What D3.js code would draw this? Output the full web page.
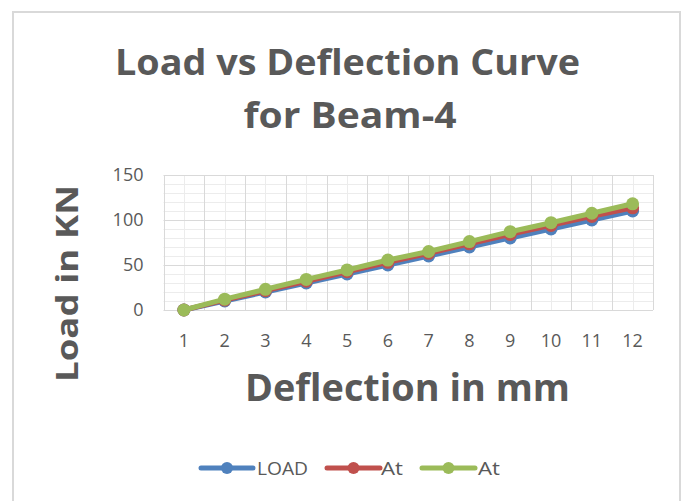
<!DOCTYPE html>
<html>
<head>
<meta charset="utf-8">
<script src="https://cdn.jsdelivr.net/npm/d3@7"></script>
<style>
  html, body { margin: 0; padding: 0; background: #fff; }
  svg { display: block; }
</style>
</head>
<body>
<svg id="chart" width="686" height="501"></svg>
<script>
const categories = ["1","2","3","4","5","6","7","8","9","10","11","12"];
const loadValues = [0, 10, 20, 30, 40, 50, 60, 70, 80, 90, 100, 110];
const at1Values  = [0, 11, 21.5, 32, 42.5, 53, 63, 73.5, 84, 94, 104, 113.5];
const at2Values  = [0, 12, 23, 34, 44.5, 55.5, 65, 76, 87, 97, 107.5, 118];
const seriesNames = ["LOAD", "At", "At"];
const yTicks = [0, 50, 100, 150];
const titleLines = ["Load vs Deflection Curve", "for Beam-4"];
const xTitle = "Deflection in mm";
const yTitle = "Load in KN";

const colors = ["#4F81BD", "#C0504D", "#9BBB59"];
const series = [loadValues, at1Values, at2Values].map((v, i) => ({ name: seriesNames[i], values: v, color: colors[i] }));

const svg = d3.select("#chart");
const textColor = "#595959";
const boldFont = "'Open Sans', 'Noto Sans', sans-serif";

// chart border
svg.append("rect").attr("x", 13).attr("y", 12).attr("width", 667).attr("height", 500)
  .attr("fill", "#fff").attr("stroke", "#d9d9d9").attr("stroke-width", 2);

const plot = { left: 163.5, right: 653, top: 175, bottom: 310 };
const x = d3.scaleBand().domain(categories).range([plot.left, plot.right]).paddingInner(0).paddingOuter(0);
const y = d3.scaleLinear().domain([0, 150]).range([plot.bottom, plot.top]);
const cx = d => x(d) + x.bandwidth() / 2;

const g = svg.append("g");

// minor horizontal gridlines
g.append("g").selectAll("line").data(d3.range(0, 151, 10).filter(v => v % 50 !== 0)).join("line")
  .attr("x1", plot.left).attr("x2", plot.right)
  .attr("y1", d => Math.round(y(d)) + 0.5).attr("y2", d => Math.round(y(d)) + 0.5)
  .attr("stroke", "#ececec").attr("stroke-width", 1);
// minor vertical gridlines (category centers)
g.append("g").selectAll("line").data(categories).join("line")
  .attr("x1", d => Math.round(cx(d)) + 0.5).attr("x2", d => Math.round(cx(d)) + 0.5)
  .attr("y1", plot.top).attr("y2", plot.bottom)
  .attr("stroke", "#ececec").attr("stroke-width", 1);
// major vertical gridlines (category boundaries)
const bounds = categories.map(c => x(c)).concat([plot.right]);
g.append("g").selectAll("line").data(bounds).join("line")
  .attr("x1", d => Math.round(d) + 0.5).attr("x2", d => Math.round(d) + 0.5)
  .attr("y1", plot.top).attr("y2", plot.bottom)
  .attr("stroke", "#d9d9d9").attr("stroke-width", 1);
// major horizontal gridlines
g.append("g").selectAll("line").data(yTicks).join("line")
  .attr("x1", plot.left).attr("x2", plot.right)
  .attr("y1", d => Math.round(y(d)) + 0.5).attr("y2", d => Math.round(y(d)) + 0.5)
  .attr("stroke", "#d9d9d9").attr("stroke-width", 1);

// y axis tick labels
const yAxis = d3.axisLeft(y).tickValues(yTicks).tickSize(0).tickPadding(20);
const yg = svg.append("g").attr("transform", `translate(${plot.left},0)`).call(yAxis);
yg.select(".domain").remove();
yg.selectAll("text").attr("font-family", "'Open Sans', sans-serif").attr("font-size", 18).attr("fill", textColor);

// x axis tick labels
const xAxis = d3.axisBottom(x).tickSize(0).tickPadding(24);
const xg = svg.append("g").attr("transform", `translate(0,${plot.bottom})`).call(xAxis);
xg.select(".domain").remove();
xg.selectAll("text").attr("font-family", "'Open Sans', sans-serif").attr("font-size", 18).attr("fill", textColor);

// series lines and markers
const line = d3.line().x((d, i) => cx(categories[i])).y(d => y(d));
series.forEach(s => {
  g.append("path").datum(s.values).attr("d", line)
    .attr("fill", "none").attr("stroke", s.color).attr("stroke-width", 5)
    .attr("stroke-linejoin", "round").attr("stroke-linecap", "round");
  g.append("g").selectAll("circle").data(s.values).join("circle")
    .attr("cx", (d, i) => cx(categories[i])).attr("cy", d => y(d)).attr("r", 6.5)
    .attr("fill", s.color);
});

// title
const title = svg.append("g");
const tl = [
  { t: titleLines[0], x: 347.5, y: 75, w: 465 },
  { t: titleLines[1], x: 350, y: 128, w: 213 }
];
tl.forEach(o => {
  title.append("text").attr("x", o.x).attr("y", o.y).attr("text-anchor", "middle")
    .attr("font-family", boldFont).attr("font-weight", "bold").attr("font-size", 36)
    .attr("fill", textColor).attr("textLength", o.w).attr("lengthAdjust", "spacingAndGlyphs")
    .text(o.t);
});

// x axis title
svg.append("text").attr("x", 407.5).attr("y", 401).attr("text-anchor", "middle")
  .attr("font-family", boldFont).attr("font-weight", "bold").attr("font-size", 37)
  .attr("fill", textColor).attr("textLength", 325).attr("lengthAdjust", "spacingAndGlyphs")
  .text(xTitle);

// y axis title
svg.append("text").attr("transform", "translate(78,283.5) rotate(-90)").attr("text-anchor", "middle")
  .attr("font-family", boldFont).attr("font-weight", "bold").attr("font-size", 30)
  .attr("fill", textColor).attr("textLength", 197).attr("lengthAdjust", "spacingAndGlyphs")
  .text(yTitle);

// legend
const legendItems = [
  { x1: 201, x2: 253, tx: 257, tw: 51 },
  { x1: 327, x2: 380, tx: 381, tw: 22 },
  { x1: 422, x2: 475, tx: 478, tw: 22 }
];
const ly = 468;
const lg = svg.append("g");
series.forEach((s, i) => {
  const it = legendItems[i];
  lg.append("line").attr("x1", it.x1).attr("x2", it.x2).attr("y1", ly).attr("y2", ly)
    .attr("stroke", s.color).attr("stroke-width", 5).attr("stroke-linecap", "round");
  lg.append("circle").attr("cx", (it.x1 + it.x2) / 2).attr("cy", ly).attr("r", 6).attr("fill", s.color);
  lg.append("text").attr("x", it.tx).attr("y", ly + 7).attr("font-family", "'Open Sans', sans-serif")
    .attr("font-size", 18).attr("fill", textColor)
    .attr("textLength", it.tw).attr("lengthAdjust", "spacingAndGlyphs").text(s.name);
});
</script>
</body>
</html>
